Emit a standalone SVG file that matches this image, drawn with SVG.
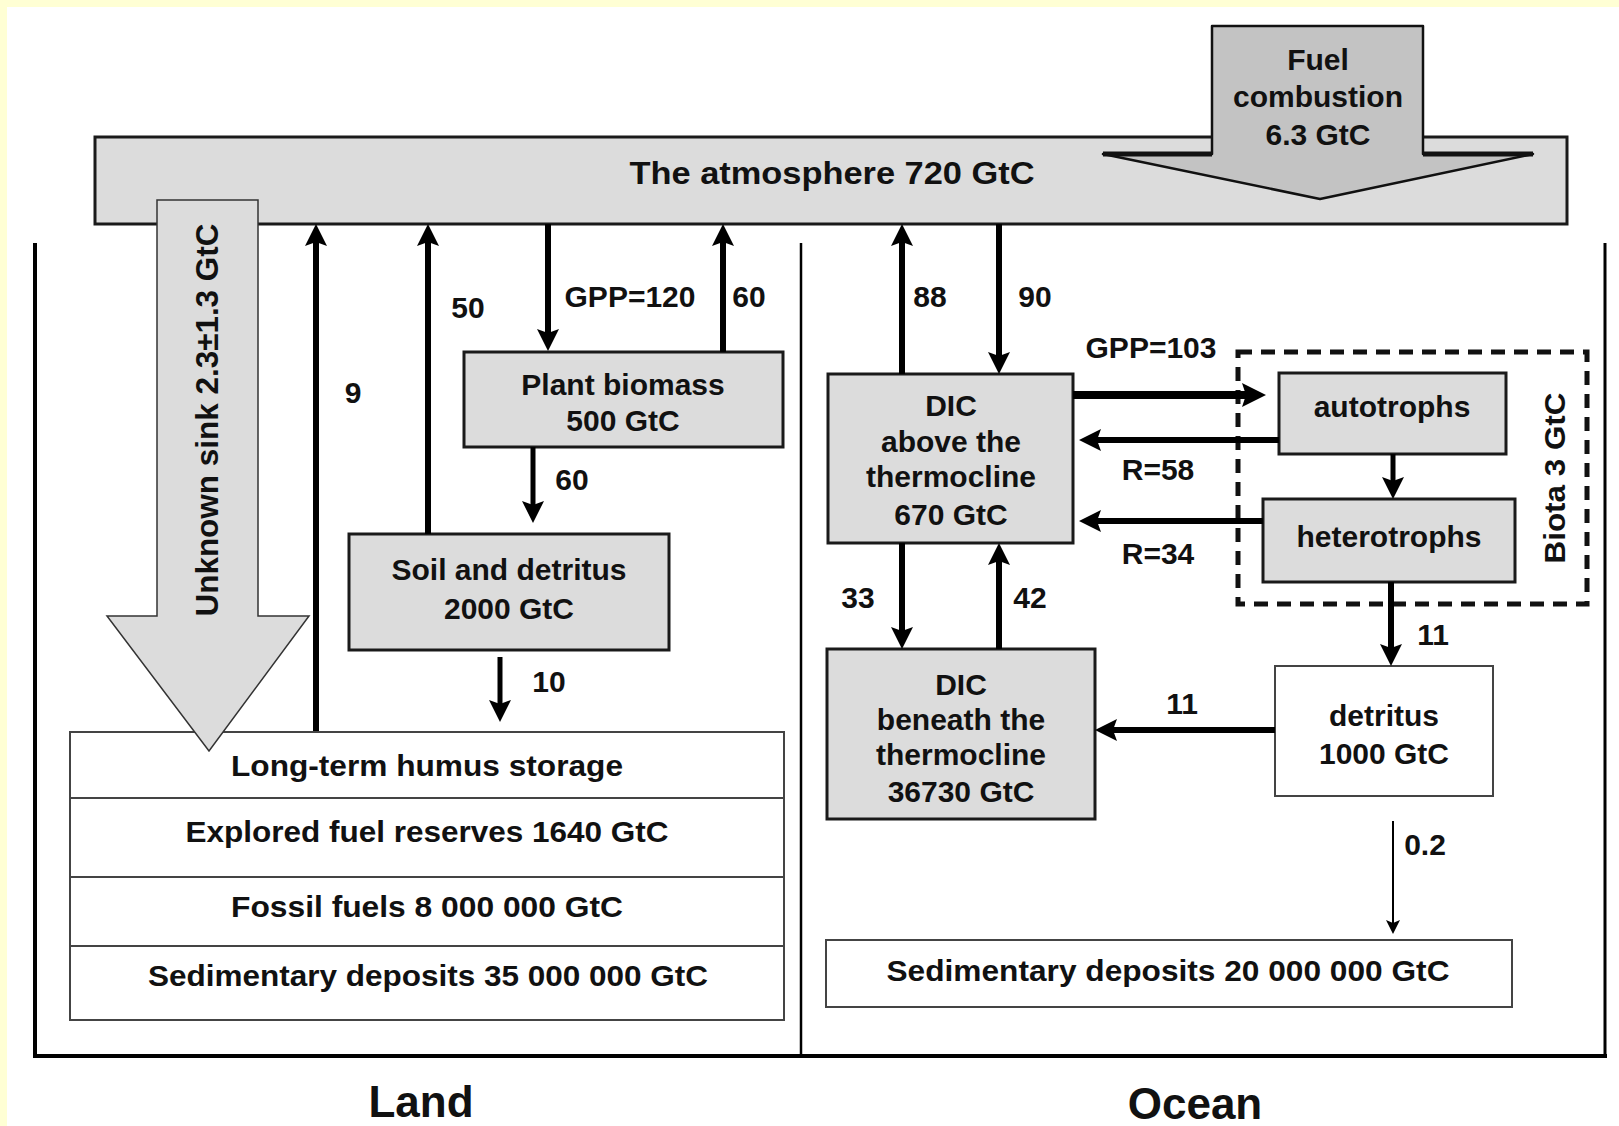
<svg xmlns="http://www.w3.org/2000/svg" width="1619" height="1126" viewBox="0 0 1619 1126">
<defs>
<style>
text{font-family:"Liberation Sans",Arial,sans-serif;font-weight:bold;fill:#111;}
.t{font-size:30px;text-anchor:middle;}
.lb{font-size:30px;text-anchor:middle;}
.big{font-size:44px;text-anchor:middle;}
.gbox{fill:#dcdcdc;stroke:#1a1a1a;stroke-width:3;}
.wbox{fill:#fff;stroke:#444;stroke-width:2;}
.ar{stroke:#000;stroke-width:6;fill:none;marker-end:url(#ah);}
.ar5{stroke:#000;stroke-width:5;fill:none;marker-end:url(#ah);}
.ar8{stroke:#000;stroke-width:8;fill:none;marker-end:url(#ahb);}
.thin{stroke:#000;stroke-width:2;fill:none;marker-end:url(#aht);}
.frame{stroke:#000;fill:none;}
</style>
<marker id="ah" markerUnits="userSpaceOnUse" viewBox="0 0 22 22" markerWidth="22" markerHeight="22" refX="14" refY="11" orient="auto"><path d="M0,0 L22,11 L0,22 L4,11 z" fill="#000"/></marker>
<marker id="ahb" markerUnits="userSpaceOnUse" viewBox="0 0 24 24" markerWidth="24" markerHeight="24" refX="16" refY="12" orient="auto"><path d="M0,0 L24,12 L0,24 L4,12 z" fill="#000"/></marker>
<marker id="aht" markerUnits="userSpaceOnUse" viewBox="0 0 14 14" markerWidth="14" markerHeight="14" refX="9" refY="7" orient="auto"><path d="M0,0 L14,7 L0,14 L3,7 z" fill="#000"/></marker>
</defs>
<rect x="0" y="0" width="1619" height="1126" fill="#fff"/>
<rect x="0" y="0" width="1619" height="7" fill="#ffffd4"/>
<rect x="0" y="0" width="7" height="1126" fill="#ffffd4"/>

<g id="frame">
<line class="frame" x1="35" y1="243" x2="35" y2="1056" stroke-width="4"/>
<line class="frame" x1="33" y1="1056" x2="1607" y2="1056" stroke-width="4"/>
<line class="frame" x1="801" y1="243" x2="801" y2="1056" stroke-width="2.5"/>
<line class="frame" x1="1605" y1="243" x2="1605" y2="1056" stroke-width="3"/>
</g>

<g id="atmosphere">
<rect class="gbox" x="95" y="137" width="1472" height="87"/>
<text class="t" x="832" y="184" style="font-size:31px" textLength="405" lengthAdjust="spacingAndGlyphs">The atmosphere 720 GtC</text>
</g>

<g id="fuel-combustion">
<path d="M1212,26 L1423,26 L1423,154 L1533,154 L1320,199 L1103,154 L1212,154 Z" fill="#c3c3c3" stroke="#111" stroke-width="2.5" stroke-linejoin="round"/>
<path d="M1103,154 L1212,154 M1423,154 L1533,154" stroke="#111" stroke-width="5" fill="none"/>
<text class="t" x="1318" y="70">Fuel</text>
<text class="t" x="1318" y="107">combustion</text>
<text class="t" x="1318" y="145">6.3 GtC</text>
</g>

<g id="land-storage">
<rect class="wbox" x="70" y="732" width="714" height="288"/>
<line x1="70" y1="798" x2="784" y2="798" stroke="#444" stroke-width="2"/>
<line x1="70" y1="877" x2="784" y2="877" stroke="#444" stroke-width="2"/>
<line x1="70" y1="946" x2="784" y2="946" stroke="#444" stroke-width="2"/>
<text class="t" x="427" y="776" textLength="392" lengthAdjust="spacingAndGlyphs">Long-term humus storage</text>
<text class="t" x="427" y="842" textLength="483" lengthAdjust="spacingAndGlyphs">Explored fuel reserves 1640 GtC</text>
<text class="t" x="427" y="917" textLength="392" lengthAdjust="spacingAndGlyphs">Fossil fuels 8 000 000 GtC</text>
<text class="t" x="428" y="986" textLength="560" lengthAdjust="spacingAndGlyphs">Sedimentary deposits 35 000 000 GtC</text>
</g>

<g id="unknown-sink">
<path d="M157,200 L258,200 L258,616 L309,616 L209,751 L107,616 L157,616 Z" fill="#dcdcdc" stroke="#333" stroke-width="1.5"/>
<text class="t" transform="translate(218,420) rotate(-90)" x="0" y="0" style="font-size:31px" textLength="393" lengthAdjust="spacingAndGlyphs">Unknown sink 2.3±1.3 GtC</text>
</g>

<g id="plant-biomass">
<rect class="gbox" x="464" y="352" width="319" height="95"/>
<text class="t" x="623" y="395">Plant biomass</text>
<text class="t" x="623" y="431">500 GtC</text>
</g>

<g id="soil-detritus">
<rect class="gbox" x="349" y="534" width="320" height="116"/>
<text class="t" x="509" y="580">Soil and detritus</text>
<text class="t" x="509" y="619">2000 GtC</text>
</g>

<g id="dic-above">
<rect class="gbox" x="828" y="374" width="245" height="169"/>
<text class="t" x="951" y="416">DIC</text>
<text class="t" x="951" y="452">above the</text>
<text class="t" x="951" y="487">thermocline</text>
<text class="t" x="951" y="525">670 GtC</text>
</g>

<g id="autotrophs">
<rect class="gbox" x="1279" y="373" width="227" height="81"/>
<text class="t" x="1392" y="417">autotrophs</text>
</g>

<g id="heterotrophs">
<rect class="gbox" x="1263" y="499" width="252" height="83"/>
<text class="t" x="1389" y="547">heterotrophs</text>
</g>

<g id="ocean-detritus">
<rect class="wbox" x="1275" y="666" width="218" height="130"/>
<text class="t" x="1384" y="726">detritus</text>
<text class="t" x="1384" y="764">1000 GtC</text>
</g>

<g id="dic-beneath">
<rect class="gbox" x="827" y="649" width="268" height="170" stroke-width="4"/>
<text class="t" x="961" y="695">DIC</text>
<text class="t" x="961" y="730">beneath the</text>
<text class="t" x="961" y="765">thermocline</text>
<text class="t" x="961" y="802">36730 GtC</text>
</g>

<g id="ocean-sediments">
<rect class="wbox" x="826" y="940" width="686" height="67"/>
<text class="t" x="1168" y="981" textLength="563" lengthAdjust="spacingAndGlyphs">Sedimentary deposits 20 000 000 GtC</text>
</g>

<g id="biota">
<rect x="1238" y="352" width="349" height="252" fill="none" stroke="#111" stroke-width="5" stroke-dasharray="14 9"/>
<text class="t" transform="translate(1565,478) rotate(-90)" x="0" y="0" textLength="171" lengthAdjust="spacingAndGlyphs">Biota 3 GtC</text>
</g>

<g id="connectors">
<line class="ar" x1="316" y1="731" x2="316" y2="232"/>
<line class="ar" x1="428" y1="534" x2="428" y2="232"/>
<line class="ar" x1="548" y1="224" x2="548" y2="343"/>
<line class="ar" x1="723" y1="352" x2="723" y2="232"/>
<line class="ar5" x1="533" y1="447" x2="533" y2="515"/>
<line class="ar5" x1="500" y1="657" x2="500" y2="714"/>
<line class="ar" x1="902" y1="374" x2="902" y2="232"/>
<line class="ar" x1="999" y1="224" x2="999" y2="366"/>
<line class="ar8" x1="1073" y1="395" x2="1258" y2="395"/>
<line class="ar" x1="1279" y1="440" x2="1087" y2="440"/>
<line class="ar" x1="1263" y1="521" x2="1087" y2="521"/>
<line class="ar5" x1="1393" y1="454" x2="1393" y2="491"/>
<line class="ar" x1="1391" y1="582" x2="1391" y2="658"/>
<line class="ar" x1="1275" y1="730" x2="1103" y2="730"/>
<line class="ar" x1="902" y1="543" x2="902" y2="641"/>
<line class="ar" x1="999" y1="649" x2="999" y2="551"/>
<line class="thin" x1="1393" y1="821" x2="1393" y2="929"/>
</g>

<g id="labels">
<text class="lb" x="353" y="403">9</text>
<text class="lb" x="468" y="318">50</text>
<text class="lb" x="630" y="307">GPP=120</text>
<text class="lb" x="749" y="307">60</text>
<text class="lb" x="572" y="490">60</text>
<text class="lb" x="549" y="692">10</text>
<text class="lb" x="930" y="307">88</text>
<text class="lb" x="1035" y="307">90</text>
<text class="lb" x="1151" y="358">GPP=103</text>
<text class="lb" x="1158" y="480">R=58</text>
<text class="lb" x="1158" y="564">R=34</text>
<text class="lb" x="1433" y="645">11</text>
<text class="lb" x="1182" y="714">11</text>
<text class="lb" x="858" y="608">33</text>
<text class="lb" x="1030" y="608">42</text>
<text class="lb" x="1425" y="855">0.2</text>
<text class="big" x="421" y="1117">Land</text>
<text class="big" x="1195" y="1119">Ocean</text>
</g>
</svg>
